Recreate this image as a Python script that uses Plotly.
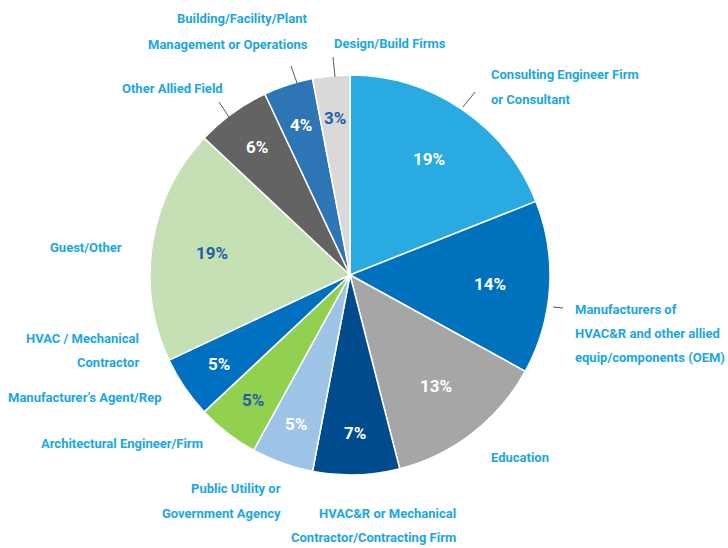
import math
import plotly.graph_objects as go

# ---- data ----
categories = [
    "Consulting Engineer Firm or Consultant",
    "Manufacturers of HVAC&R and other allied equip/components (OEM)",
    "Education",
    "HVAC&R or Mechanical Contractor/Contracting Firm",
    "Public Utility or Government Agency",
    "Architectural Engineer/Firm",
    "Manufacturer's Agent/Rep",
    "Guest/Other",
    "Other Allied Field",
    "Building/Facility/Plant Management or Operations",
    "Design/Build Firms",
]
values = [19, 14, 13, 7, 5, 5, 5, 19, 6, 4, 3]
colors = ["#29ABE2", "#0071BC", "#A6A6A6", "#004B8D", "#9DC3E6", "#92D050",
          "#0070C0", "#C5E0B4", "#636363", "#2E75B6", "#D9D9D9"]
pct_colors = ["white", "white", "white", "white", "white", "#1F5FA8",
              "white", "#1F5FA8", "white", "white", "#1F5FA8"]

FONT = "Roboto, Liberation Sans, sans-serif"
LABEL_COLOR = "#1BA7E0"
W, H = 728, 548
CX, CY, R = 350, 275, 200  # pie centre / radius in pixels (layout)

fig = go.Figure(go.Pie(
    labels=categories,
    values=values,
    sort=False,
    direction="clockwise",
    rotation=0,
    marker=dict(colors=colors, line=dict(color="white", width=1.5)),
    textinfo="none",
    hoverinfo="label+value",
    showlegend=False,
    domain=dict(x=[(CX - R) / W, (CX + R) / W],
                y=[1 - (CY + R) / H, 1 - (CY - R) / H]),
))

# percentage labels placed from the data (mid-angle of each slice)
total = sum(values)
cum = 0
for v, c in zip(values, pct_colors):
    mid = (cum + v / 2) / total * 2 * math.pi
    cum += v
    rf = 0.70 if v >= 10 else 0.79
    px = CX + rf * R * math.sin(mid)
    py = CY - rf * R * math.cos(mid)
    fig.add_annotation(
        text=f"{v}%", x=px / W, y=1 - py / H, xref="paper", yref="paper",
        xanchor="center", yanchor="middle", showarrow=False,
        font=dict(family=FONT, size=17, color=c, weight="bold"),
    )

# outside labels: (text, x_px, y_px, anchor)
outside_labels = [
    ("Consulting Engineer Firm", 489, 75, "left"),
    ("or Consultant", 489, 99, "left"),
    ("Manufacturers of", 573, 309, "left"),
    ("HVAC&R and other allied", 573, 333, "left"),
    ("equip/components (OEM)", 573, 357, "left"),
    ("Education", 489, 457, "left"),
    ("HVAC&R or Mechanical", 458, 513, "right"),
    ("Contractor/Contracting Firm", 458, 537, "right"),
    ("Public Utility or", 283, 488, "right"),
    ("Government Agency", 283, 513, "right"),
    ("Architectural Engineer/Firm", 205, 443, "right"),
    ("Manufacturer\u2019s Agent/Rep", 164, 397, "right"),
    ("HVAC / Mechanical", 141, 338, "right"),
    ("Contractor", 141, 362, "right"),
    ("Guest/Other", 124, 247, "right"),
    ("Other Allied Field", 225, 88, "right"),
    ("Building/Facility/Plant", 310, 19, "right"),
    ("Management or Operations", 310, 45, "right"),
    ("Design/Build Firms", 332, 43, "left"),
]
for txt, x, y, anc in outside_labels:
    fig.add_annotation(
        text=txt, x=x / W, y=1 - y / H, xref="paper", yref="paper",
        xanchor=anc, yanchor="middle", showarrow=False,
        font=dict(family=FONT, size=13, color=LABEL_COLOR, weight="bold"),
    )

# leader lines (pixel endpoints)
leaders = [
    (463, 107, 475, 92),
    (553, 307, 563, 308),
    (335, 77, 333, 57),
    (297, 83, 291, 66),
    (229, 117, 219, 102),
]
for x0, y0, x1, y1 in leaders:
    fig.add_shape(type="line", xref="paper", yref="paper",
                  x0=x0 / W, y0=1 - y0 / H, x1=x1 / W, y1=1 - y1 / H,
                  line=dict(color="#595959", width=1))

fig.update_layout(
    width=W, height=H,
    margin=dict(l=0, r=0, t=0, b=0),
    paper_bgcolor="white", plot_bgcolor="white",
)

fig.write_html("out.html",
               config={"displayModeBar": False},
               post_script="document.body.style.margin='0px';"
                           "document.body.style.overflow='hidden';")
